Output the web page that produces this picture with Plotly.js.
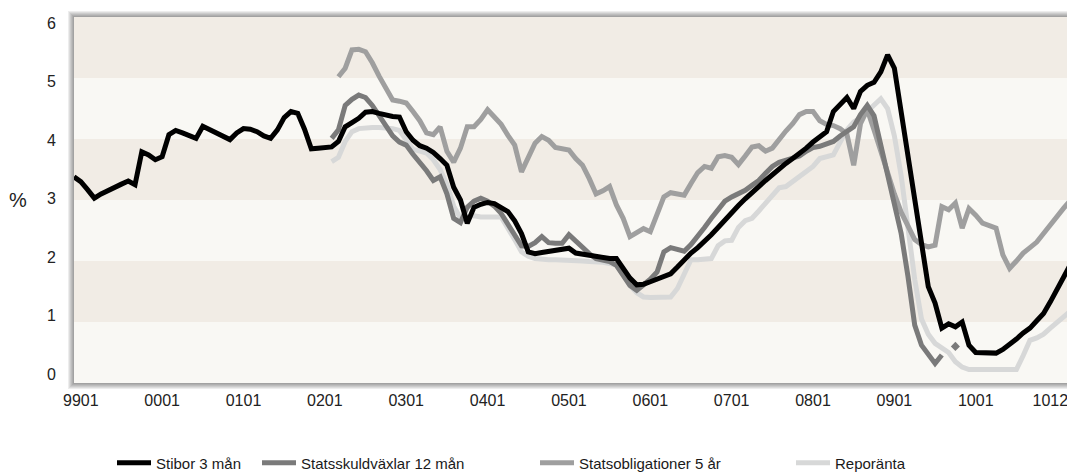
<!DOCTYPE html>
<html>
<head>
<meta charset="utf-8">
<script src="https://cdn.plot.ly/plotly-3.0.1.min.js"></script>
<style>
html,body{margin:0;padding:0;background:#ffffff;}
#chart{width:1067px;height:473px;}
</style>
</head>
<body>
<div id="chart"></div>
<script>
// Month categories, Dec 1998 .. Mar 2011 (code YYMM)
const months = [];
for (let y = 1998, m = 12; months.length < 148; ) {
  months.push(String(y % 100).padStart(2, '0') + String(m).padStart(2, '0'));
  m++; if (m > 12) { m = 1; y++; }
}

const tickLabels = ['9901','0001','0101','0201','0301','0401','0501','0601','0701','0801','0901','1001','1012'];

const seriesNames = ['Stibor 3 mån','Statsskuldväxlar 12 mån','Statsobligationer 5 år','Reporänta'];

const stibor3m = [
3.38,3.30,3.17,3.03,3.10,3.16,3.21,3.26,3.31,3.25,
3.79,3.74,3.66,3.71,4.07,4.14,4.10,4.05,4.01,4.21,
4.16,4.10,4.05,3.99,4.10,4.17,4.16,4.12,4.05,4.01,
4.15,4.35,4.45,4.42,4.16,3.84,3.85,3.86,3.87,3.96,
4.20,4.27,4.34,4.44,4.45,4.42,4.39,4.37,4.36,4.12,
3.98,3.89,3.85,3.78,3.68,3.57,3.21,3.00,2.62,2.88,
2.93,2.96,2.94,2.87,2.81,2.66,2.45,2.15,2.12,2.14,
2.16,2.18,2.19,2.21,2.13,2.11,2.09,2.07,2.05,2.04,
2.04,1.88,1.72,1.61,1.62,1.66,1.71,1.75,1.79,1.90,
2.02,2.13,2.22,2.32,2.43,2.55,2.68,2.80,2.91,3.02,
3.13,3.22,3.32,3.42,3.51,3.60,3.68,3.76,3.85,3.95,
4.04,4.12,4.45,4.58,4.68,4.50,4.78,4.88,4.93,5.10,
5.38,5.16,4.45,3.74,3.03,2.30,1.58,1.31,0.90,0.97,
0.92,1.00,0.62,0.50,0.50,0.49,0.49,0.55,0.63,0.72,
0.82,0.90,1.02,1.14,1.33,1.53,1.75,1.95
];

const statsskuld12m = [
null,null,null,null,null,null,null,null,null,null,
null,null,null,null,null,null,null,null,null,null,
null,null,null,null,null,null,null,null,null,null,
null,null,null,null,null,null,null,null,4.01,4.15,
4.55,4.65,4.72,4.68,4.55,4.38,4.22,4.05,3.95,3.90,
3.75,3.62,3.48,3.32,3.38,3.10,2.70,2.63,2.88,2.98,
3.03,2.98,2.90,2.78,2.60,2.40,2.25,2.24,2.30,2.40,
2.30,2.29,2.29,2.43,2.32,2.22,2.12,2.04,2.01,1.99,
1.93,1.75,1.60,1.52,1.60,1.70,1.82,2.15,2.22,2.18,
2.16,2.27,2.40,2.55,2.70,2.85,2.98,3.05,3.10,3.16,
3.24,3.32,3.44,3.55,3.62,3.65,3.69,3.72,3.80,3.86,
3.88,3.92,3.96,4.05,4.13,4.20,4.40,4.55,4.38,3.90,
3.40,2.95,2.45,1.75,0.95,0.62,0.47,0.32,0.46,null,
0.60,null,null,null,null,null,null,null,null,null,
null,null,null,null,null,null,null,null
];

const statsoblig5y = [
null,null,null,null,null,null,null,null,null,null,
null,null,null,null,null,null,null,null,null,null,
null,null,null,null,null,null,null,null,null,null,
null,null,null,null,null,null,null,null,null,5.02,
5.16,5.46,5.47,5.43,5.25,5.03,4.82,4.64,4.62,4.59,
4.45,4.30,4.10,4.07,4.20,3.80,3.62,3.85,4.20,4.20,
4.32,4.48,4.36,4.24,4.06,3.90,3.46,3.70,3.93,4.04,
3.98,3.86,3.84,3.82,3.68,3.57,3.35,3.10,3.15,3.22,
2.92,2.70,2.40,2.47,2.53,2.48,2.75,3.05,3.12,3.10,
3.08,3.27,3.45,3.55,3.52,3.71,3.73,3.70,3.58,3.72,
3.87,3.89,3.80,3.85,4.00,4.13,4.25,4.40,4.45,4.45,
4.30,4.24,4.22,4.17,4.08,3.57,4.25,4.48,4.15,3.80,
3.40,3.10,2.80,2.55,2.35,2.27,2.23,2.26,2.89,2.84,
2.95,2.54,2.86,2.75,2.62,2.58,2.54,2.10,1.88,2.00,
2.13,2.22,2.31,2.45,2.60,2.74,2.87,3.00
];

const reporanta = [
null,null,null,null,null,null,null,null,null,null,
null,null,null,null,null,null,null,null,null,null,
null,null,null,null,null,null,null,null,null,null,
null,null,null,null,null,null,null,null,3.63,3.70,
3.96,4.12,4.17,4.19,4.19,4.19,4.19,4.17,4.14,4.00,
3.83,3.80,3.77,3.66,3.50,3.25,2.90,2.70,2.72,2.74,
2.72,2.71,2.72,2.72,2.55,2.35,2.15,2.08,2.04,2.02,
2.02,2.02,2.02,2.02,2.02,2.00,1.99,1.99,1.98,1.96,
1.93,1.78,1.60,1.48,1.41,1.40,1.40,1.40,1.41,1.55,
1.80,2.02,2.02,2.03,2.04,2.25,2.33,2.34,2.55,2.66,
2.70,2.82,2.95,3.10,3.20,3.22,3.30,3.38,3.46,3.55,
3.68,3.72,3.74,3.95,4.15,4.28,4.34,4.45,4.55,4.66,
4.50,4.05,3.40,2.60,1.70,1.05,0.80,0.65,0.58,0.50,
0.35,0.26,0.22,0.22,0.22,0.22,0.22,0.22,0.22,0.22,
0.45,0.70,0.74,0.80,0.90,1.00,1.10,1.18
];

const colors = ['#000000','#7a7a7a','#9f9f9f','#d7d8d8'];
const seriesData = [stibor3m, statsskuld12m, statsoblig5y, reporanta];
const legendIds = ['legend','legend2','legend3','legend4'];

// draw order: lightest at the bottom, Stibor on top
const traces = [];
for (let k = seriesData.length - 1; k >= 0; k--) {
  const ys = seriesData[k];
  traces.push({
    type: 'scatter', mode: 'lines', name: seriesNames[k],
    x: months, y: ys,
    line: {color: colors[k], width: 5},
    legend: legendIds[k], connectgaps: false
  });
  // isolated single observations (no neighbours) would vanish as a line: show them as points
  const isoX = [], isoY = [];
  ys.forEach((v, i) => {
    if (v !== null && (i === 0 || ys[i-1] === null) && (i === ys.length-1 || ys[i+1] === null)) {
      isoX.push(months[i]); isoY.push(v);
    }
  });
  if (isoX.length) {
    traces.push({type:'scatter', mode:'markers', x: isoX, y: isoY, showlegend:false,
      name: seriesNames[k], marker:{color: colors[k], size: 7, symbol:'diamond'}, legend: legendIds[k]});
  }
}

const W = 1067, H = 473, L = 74, T = 17, B = 90;
const plotW = W - L, plotH = H - T - B;
const px2x = p => (p - L) / plotW;
const py2y = p => (H - B - p) / plotH;

const bandLight = '#f9f8f4', bandDark = '#f1ece5';
const shapes = [];
[1,3,5].forEach(k => shapes.push({type:'rect', xref:'paper', yref:'y', x0:0, x1:1, y0:k, y1:k+1,
  fillcolor: bandDark, line:{width:0}, layer:'below'}));
// soft drop shadow around plot frame
for (let j = 1; j <= 6; j++) {
  const a = 0.07;
  shapes.push({type:'rect', xref:'paper', yref:'paper', x0:-j/plotW, x1:0, y0:-j/plotH, y1:1 + j/plotH,
    fillcolor:'rgba(0,0,0,'+a+')', line:{width:0}, layer:'below'});
  shapes.push({type:'rect', xref:'paper', yref:'paper', x0:0, x1:1, y0:1, y1:1 + j/plotH,
    fillcolor:'rgba(0,0,0,'+a+')', line:{width:0}, layer:'below'});
  shapes.push({type:'rect', xref:'paper', yref:'paper', x0:0, x1:1, y0:-j/plotH, y1:0,
    fillcolor:'rgba(0,0,0,'+a+')', line:{width:0}, layer:'below'});
}

const legendFont = {family:'Liberation Sans, Arial, sans-serif', size:15, color:'#1a1a1a'};
const legendPx = [112, 257, 535, 791];
const legendY = py2y(463);
function mkLegend(p) {
  return {orientation:'h', x: px2x(p), xanchor:'left', y: legendY, yanchor:'middle',
    bgcolor:'rgba(0,0,0,0)', borderwidth:0, font: legendFont, itemwidth: 34};
}

const layout = {
  width: W, height: H,
  margin: {l: L, r: 0, t: T, b: B, pad: 0, autoexpand: false},
  paper_bgcolor: '#ffffff',
  plot_bgcolor: bandLight,
  showlegend: true,
  hovermode: false,
  legend: mkLegend(legendPx[0]),
  legend2: mkLegend(legendPx[1]),
  legend3: mkLegend(legendPx[2]),
  legend4: mkLegend(legendPx[3]),
  xaxis: {
    type: 'category',
    range: [0, plotW / 6.78],
    tickvals: tickLabels, ticktext: tickLabels,
    showgrid: false, zeroline: false, showline: false, ticks: '',
    tickfont: {family:'Liberation Sans, Arial, sans-serif', size:16, color:'#222222'},
    ticklabelstandoff: 6,
    automargin: false,
    fixedrange: true
  },
  yaxis: {
    range: [0, 6], showticklabels: false, showgrid: false, zeroline: false, showline: false,
    ticks: '', fixedrange: true, automargin: false
  },
  yaxis2: {
    overlaying: 'y', side: 'left',
    range: [-0.154, 6.103],
    tickvals: [0,1,2,3,4,5,6],
    showgrid: false, zeroline: false, showline: false, ticks: '',
    tickfont: {family:'Liberation Sans, Arial, sans-serif', size:16, color:'#222222'},
    ticklabelstandoff: 17,
    automargin: false,
    fixedrange: true
  },
  shapes: shapes,
  annotations: [{
    text: '%', xref:'paper', yref:'paper', x: px2x(18), y: py2y(200),
    xanchor:'center', yanchor:'middle', showarrow:false,
    font: {family:'Liberation Sans, Arial, sans-serif', size:20, color:'#222222'}
  }]
};

// empty trace on yaxis2 so that its labels are drawn
traces.push({type:'scatter', x:[months[0]], y:[null], yaxis:'y2', showlegend:false, mode:'lines'});

Plotly.newPlot('chart', traces, layout, {displayModeBar:false, staticPlot:true});
</script>
</body>
</html>
